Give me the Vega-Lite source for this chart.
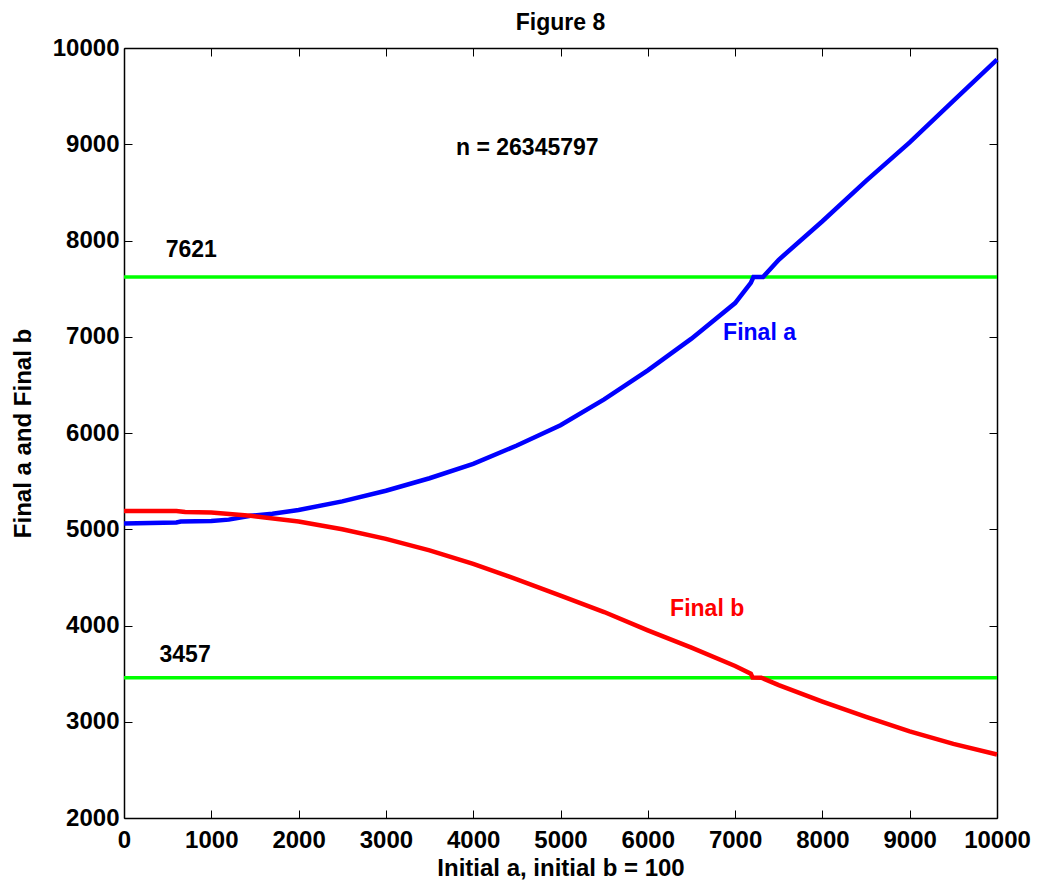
{
  "$schema": "https://vega.github.io/schema/vega-lite/v6.json",
  "width": 873,
  "height": 770,
  "autosize": "none",
  "padding": {"left": 124, "top": 48, "right": 42, "bottom": 64},
  "background": "white",
  "config": {
    "view": {"stroke": null},
    "font": "Liberation Sans",
    "axis": {"grid": false, "domainColor": "black", "domainWidth": 1.5, "tickColor": "black", "tickWidth": 1, "labelFont": "Liberation Sans", "labelFontWeight": "bold", "labelFontSize": 24, "labelColor": "black", "labelFlush": false, "labelOverlap": false, "titleFont": "Liberation Sans", "titleFontWeight": "bold", "titleFontSize": 24, "titleColor": "black"}
  },
  "title": {"text": "Figure 8", "fontSize": 23, "fontWeight": "bold", "font": "Liberation Sans", "color": "black", "anchor": "middle", "offset": 1, "letterSpacing": 1},
  "datasets": {
    "curves": [
      {"x": 0, "y": 5060, "s": "Final a"}, {"x": 300, "y": 5065, "s": "Final a"}, {"x": 600, "y": 5070, "s": "Final a"}, {"x": 650, "y": 5080, "s": "Final a"}, {"x": 1000, "y": 5085, "s": "Final a"}, {"x": 1200, "y": 5100, "s": "Final a"}, {"x": 1450, "y": 5140, "s": "Final a"}, {"x": 1700, "y": 5160, "s": "Final a"}, {"x": 2000, "y": 5200, "s": "Final a"}, {"x": 2500, "y": 5290, "s": "Final a"}, {"x": 3000, "y": 5400, "s": "Final a"}, {"x": 3500, "y": 5530, "s": "Final a"}, {"x": 4000, "y": 5680, "s": "Final a"}, {"x": 4500, "y": 5870, "s": "Final a"}, {"x": 5000, "y": 6080, "s": "Final a"}, {"x": 5500, "y": 6350, "s": "Final a"}, {"x": 6000, "y": 6650, "s": "Final a"}, {"x": 6500, "y": 6980, "s": "Final a"}, {"x": 7000, "y": 7350, "s": "Final a"}, {"x": 7180, "y": 7560, "s": "Final a"}, {"x": 7210, "y": 7621, "s": "Final a"}, {"x": 7320, "y": 7621, "s": "Final a"}, {"x": 7500, "y": 7800, "s": "Final a"}, {"x": 8000, "y": 8200, "s": "Final a"}, {"x": 8500, "y": 8620, "s": "Final a"}, {"x": 9000, "y": 9020, "s": "Final a"}, {"x": 9500, "y": 9450, "s": "Final a"}, {"x": 10000, "y": 9880, "s": "Final a"},
      {"x": 0, "y": 5190, "s": "Final b"}, {"x": 600, "y": 5190, "s": "Final b"}, {"x": 700, "y": 5180, "s": "Final b"}, {"x": 1000, "y": 5175, "s": "Final b"}, {"x": 1450, "y": 5140, "s": "Final b"}, {"x": 2000, "y": 5080, "s": "Final b"}, {"x": 2500, "y": 5000, "s": "Final b"}, {"x": 3000, "y": 4900, "s": "Final b"}, {"x": 3500, "y": 4780, "s": "Final b"}, {"x": 4000, "y": 4640, "s": "Final b"}, {"x": 4500, "y": 4480, "s": "Final b"}, {"x": 5000, "y": 4310, "s": "Final b"}, {"x": 5500, "y": 4140, "s": "Final b"}, {"x": 6000, "y": 3950, "s": "Final b"}, {"x": 6500, "y": 3770, "s": "Final b"}, {"x": 7000, "y": 3580, "s": "Final b"}, {"x": 7180, "y": 3500, "s": "Final b"}, {"x": 7200, "y": 3460, "s": "Final b"}, {"x": 7300, "y": 3457, "s": "Final b"}, {"x": 7500, "y": 3380, "s": "Final b"}, {"x": 8000, "y": 3210, "s": "Final b"}, {"x": 8500, "y": 3050, "s": "Final b"}, {"x": 9000, "y": 2900, "s": "Final b"}, {"x": 9500, "y": 2770, "s": "Final b"}, {"x": 10000, "y": 2660, "s": "Final b"}
    ],
    "levels": [{"level": 7621}, {"level": 3457}],
    "labels": [
      {"x": 770, "y": 7900, "text": "7621", "c": "black"},
      {"x": 700, "y": 3690, "text": "3457", "c": "black"},
      {"x": 4620, "y": 8960, "text": "n = 26345797", "c": "black"},
      {"x": 7280, "y": 7040, "text": "Final a", "c": "blue"},
      {"x": 6680, "y": 4170, "text": "Final b", "c": "red"}
    ]
  },
  "resolve": {"axis": {"x": "independent", "y": "independent"}},
  "layer": [
    {
      "data": {"name": "levels"},
      "mark": {"type": "rule", "color": "#00FF00", "strokeWidth": 3.5},
      "encoding": {
        "y": {"field": "level", "type": "quantitative", "scale": {"domain": [2000, 10000], "nice": false}, "axis": {"orient": "right", "values": [2000, 3000, 4000, 5000, 6000, 7000, 8000, 9000, 10000], "labels": false, "title": null, "tickSize": -8, "domain": true}}
      }
    },
    {
      "data": {"name": "curves"},
      "mark": {"type": "line", "strokeWidth": 4.5},
      "encoding": {
        "x": {"field": "x", "type": "quantitative", "scale": {"domain": [0, 10000], "nice": false}, "axis": {"orient": "bottom", "values": [0, 1000, 2000, 3000, 4000, 5000, 6000, 7000, 8000, 9000, 10000], "tickSize": -8, "labelPadding": 18, "format": "d", "title": "Initial a, initial b = 100", "titlePadding": 4}},
        "y": {"field": "y", "type": "quantitative", "scale": {"domain": [2000, 10000], "nice": false}, "axis": {"orient": "left", "values": [2000, 3000, 4000, 5000, 6000, 7000, 8000, 9000, 10000], "tickSize": -8, "labelPadding": 13, "format": "d", "title": "Final a and Final b", "titlePadding": 17}},
        "color": {"field": "s", "type": "nominal", "scale": {"domain": ["Final a", "Final b"], "range": ["#0000FF", "#FF0000"]}, "legend": null}
      }
    },
    {
      "data": {"name": "labels"},
      "mark": {"type": "text", "fontSize": 23, "fontWeight": "bold", "font": "Liberation Sans", "align": "center", "baseline": "middle", "letterSpacing": 1},
      "encoding": {
        "x": {"field": "x", "type": "quantitative", "scale": {"domain": [0, 10000], "nice": false}, "axis": {"orient": "top", "values": [0, 1000, 2000, 3000, 4000, 5000, 6000, 7000, 8000, 9000, 10000], "labels": false, "title": null, "tickSize": -8}},
        "y": {"field": "y", "type": "quantitative", "scale": {"domain": [2000, 10000], "nice": false}, "axis": null},
        "text": {"field": "text"},
        "color": {"field": "c", "type": "nominal", "scale": null}
      }
    }
  ]
}
